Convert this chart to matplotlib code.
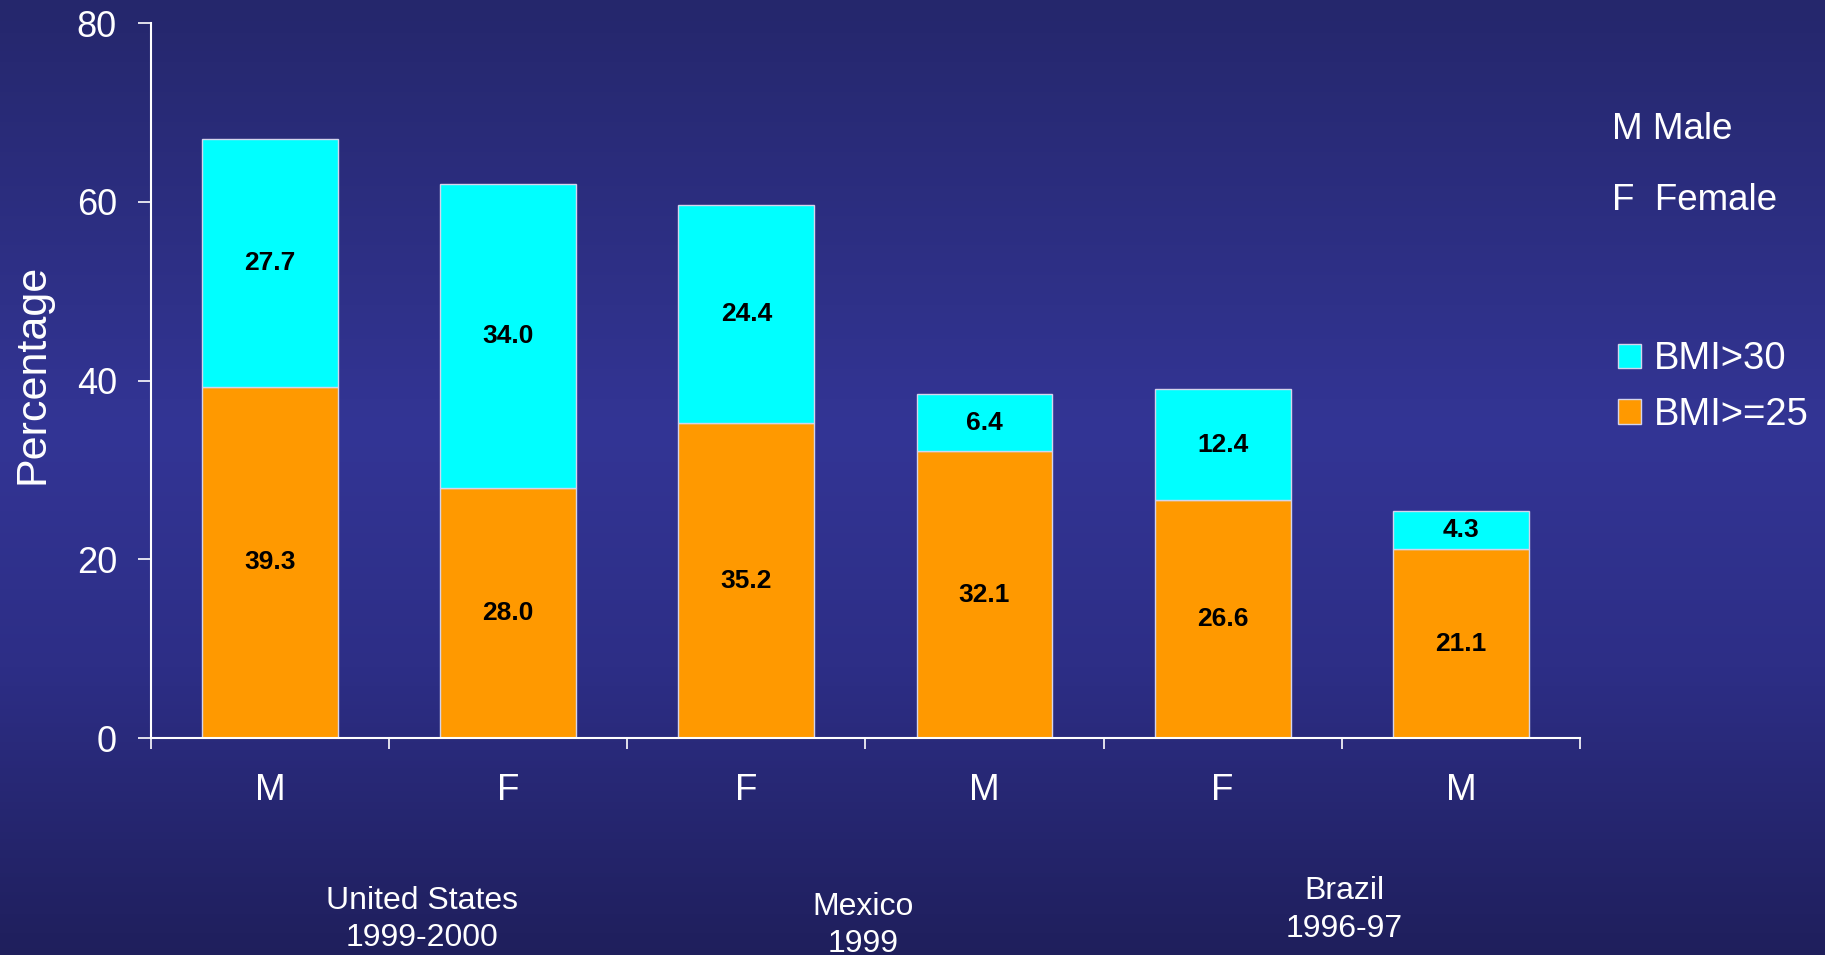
import numpy as np
import matplotlib
matplotlib.use('Agg')
from matplotlib import pyplot as plt
from matplotlib.colors import LinearSegmentedColormap

# data
sexes = ['M', 'F', 'F', 'M', 'F', 'M']
overweight = [39.3, 28.0, 35.2, 32.1, 26.6, 21.1]   # BMI>=25
obese = [27.7, 34.0, 24.4, 6.4, 12.4, 4.3]          # BMI>30
countries = ['United States\n1999-2000', 'Mexico\n1999', 'Brazil\n1996-97']
yticks = [0, 20, 40, 60, 80]

# where the country captions sit (data x, axes-fraction y)
country_x = [0.64, 2.49, 4.51]
country_y = [-0.2535, -0.2627, -0.2405]

plt.rcParams['font.family'] = ['Liberation Sans', 'DejaVu Sans']

fig = plt.figure(figsize=(18.25, 9.55), dpi=100)

# slide background: vertical blue gradient
bg = fig.add_axes([0, 0, 1, 1], zorder=-10)
cmap = LinearSegmentedColormap.from_list(
    'slide', [(0, '#25276c'), (0.45, '#333595'), (0.7, '#2d2e86'), (1, '#1f1f5c')])
bg.imshow(np.linspace(0, 1, 256).reshape(-1, 1), aspect='auto', cmap=cmap,
          extent=[0, 1, 0, 1])
bg.axis('off')

ax = fig.add_axes([0.0827, 0.2272, 0.783, 0.7487])
ax.patch.set_alpha(0)

x = np.arange(len(sexes))
edge = '#d4d4ec'
b1 = ax.bar(x, overweight, 0.57, color='#ff9900', edgecolor=edge, linewidth=1,
            label='BMI>=25')
b2 = ax.bar(x, obese, 0.57, bottom=overweight, color='#00ffff', edgecolor=edge,
            linewidth=1, label='BMI>30')
ax.bar_label(b1, fmt='%.1f', label_type='center', fontsize=19, fontweight='bold')
ax.bar_label(b2, fmt='%.1f', label_type='center', fontsize=19, fontweight='bold')

ax.set_xlim(-0.5, len(sexes) - 0.5)
ax.set_ylim(0, 80)
ax.set_yticks(yticks)

for s in ['top', 'right']:
    ax.spines[s].set_visible(False)
for s in ['left', 'bottom']:
    ax.spines[s].set_color('white')
    ax.spines[s].set_linewidth(1.5)

ax.set_xticks(np.arange(-0.5, len(sexes), 1))
ax.set_xticklabels([])
ax.set_xticks(x, sexes, minor=True)
ax.tick_params(axis='x', which='major', length=8, width=1.2, color='white')
ax.tick_params(axis='x', which='minor', length=0, pad=25.5, labelsize=26.5,
               labelcolor='white')
ax.tick_params(axis='y', length=9.5, width=1.2, color='white', pad=15,
               labelsize=26, labelcolor='white')

fig.text(0.018, 0.608, 'Percentage', rotation=90, ha='center', va='center',
         fontsize=31, color='white')

for name, cx, cy in zip(countries, country_x, country_y):
    ax.text(cx, cy, name, transform=ax.get_xaxis_transform(), ha='center',
            va='center', fontsize=23, color='white', linespacing=1.31)

fig.text(0.8833, 0.8646, 'M Male', ha='left', va='center', fontsize=26.5, color='white')
fig.text(0.8833, 0.7903, 'F  Female', ha='left', va='center', fontsize=26.5, color='white')

ax.legend(handles=[b2, b1], loc='center left', bbox_to_anchor=(0.8866, 0.5947),
          bbox_transform=fig.transFigure, frameon=False, fontsize=27.5,
          labelcolor='white', handlelength=0.6, handleheight=0.6,
          handletextpad=0.34, labelspacing=0.52, borderpad=0, borderaxespad=0)

fig.savefig('out.png', dpi=100)
